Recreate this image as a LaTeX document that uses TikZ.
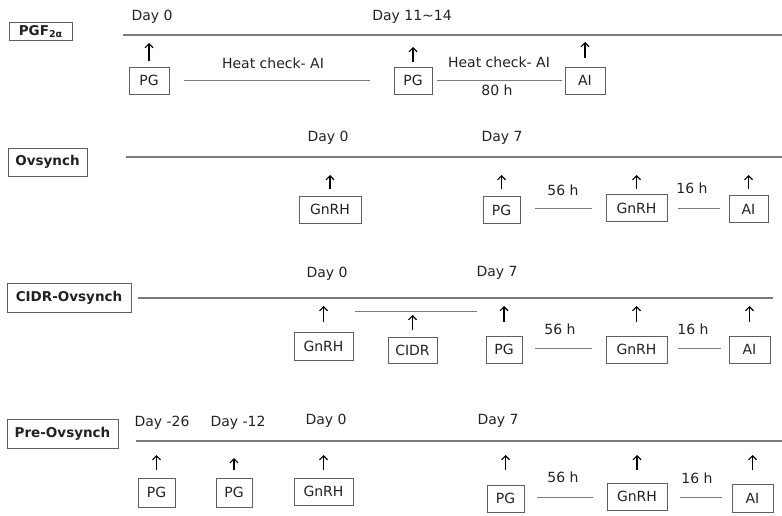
\documentclass[tikz,border=0pt]{standalone}
\usepackage{fontspec}
\setmainfont{DejaVu Sans}
\usetikzlibrary{arrows.meta}
\definecolor{txt}{HTML}{222222}
\definecolor{ln}{HTML}{7A7A7A}
\definecolor{bx}{HTML}{5E5E5E}
\begin{document}
\begin{tikzpicture}[x=1pt,y=-1pt,
  every node/.style={text=txt,font=\fontsize{14}{16}\selectfont,inner sep=0pt},
  ev/.style={draw=bx,line width=0.8pt,minimum height=27pt,minimum width=38pt},
  lab/.style={draw=bx,line width=0.9pt,font=\fontsize{13.5}{15}\selectfont\bfseries,minimum height=28pt},
  tl/.style={draw=ln,line width=1.3pt},
  seg/.style={draw=ln,line width=0.9pt},
  up/.style={draw=black,line width=1.1pt,-{Straight Barb[length=4pt,width=8pt,line width=1.1pt]}}]
\useasboundingbox (0,0) rectangle (782,516);

% ---------------- Row 1: PGF2alpha ----------------
\node[lab,minimum width=63pt,minimum height=18pt] (lab1) at (40.5,31.5) {PGF\raisebox{-0.35ex}{\fontsize{9.5}{10}\selectfont 2α}};
\coordinate (t1a) at (123,35);
\coordinate (t1b) at (782,35);
\draw[tl] (t1a) -- (t1b);
\node (d1a) at (152,17) {Day 0};
\node (d1b) at (412,17) {Day 11\textasciitilde 14};
\node[ev,minimum width=40pt] (pg1a) at (149,80.5) {PG};
\node[ev] (pg1b) at (413,80.5) {PG};
\node[ev,minimum width=40pt] (ai1) at (585,80.5) {AI};
\draw[up] (pg1a.center |- 0,61) -- (pg1a.center |- 0,43);
\draw[up] (pg1b.center |- 0,62) -- (pg1b.center |- 0,47);
\draw[up] (ai1.center |- 0,58) -- (ai1.center |- 0,42);
\draw[seg] ([xshift=15pt]pg1a.east) -- ([xshift=-24pt]pg1b.west);
\draw[seg] ([xshift=5pt,yshift=0.5pt]pg1b.east) -- ([xshift=-3pt,yshift=0.5pt]ai1.west);
\node (hc1) at (273,63) {Heat check- AI};
\node (hc2) at (499,62) {Heat check- AI};
\node (h80) at (497,90) {80 h};

% ---------------- Row 2: Ovsynch ----------------
\node[lab,minimum width=79pt] (lab2) at (47.5,162) {Ovsynch};
\coordinate (t2a) at (126,157);
\coordinate (t2b) at (782,157);
\draw[tl] (t2a) -- (t2b);
\node (d2a) at (328,138) {Day 0};
\node (d2b) at (502,138) {Day 7};
\node[ev,minimum width=62pt] (gn2a) at (330,209.5) {GnRH};
\node[ev,minimum width=37pt] (pg2) at (501.5,210) {PG};
\node[ev,minimum width=61pt] (gn2b) at (636.5,208) {GnRH};
\node[ev,minimum width=39pt] (ai2) at (748.5,209) {AI};
\foreach \n in {gn2a,pg2,gn2b,ai2}{
  \draw[up] (\n.center |- 0,189) -- (\n.center |- 0,175);
}
\draw[seg] ([xshift=15pt]pg2.east |- 0,208) -- ([xshift=-14pt]gn2b.west |- 0,208);
\draw[seg] ([xshift=11pt]gn2b.east |- 0,208) -- ([xshift=-9pt]ai2.west |- 0,208);
\node (h56b) at (563,190) {56 h};
\node (h16b) at (692,188) {16 h};

% ---------------- Row 3: CIDR-Ovsynch ----------------
\node[lab,minimum width=124pt,minimum height=29pt] (lab3) at (69,297.5) {CIDR-Ovsynch};
\coordinate (t3b) at (773,298);
\draw[tl] ([xshift=7pt]lab3.east |- 0,298) -- (t3b);
\node (d3a) at (327,274) {Day 0};
\node (d3b) at (497,273) {Day 7};
\node[ev,minimum width=59pt,minimum height=28pt] (gn3a) at (323.5,346) {GnRH};
\node[ev,minimum width=49pt,minimum height=26pt] (cidr) at (412.5,350) {CIDR};
\node[ev,minimum width=36pt] (pg3) at (504,349.5) {PG};
\node[ev,minimum width=61pt] (gn3b) at (636.5,349.5) {GnRH};
\node[ev,minimum width=41pt] (ai3) at (749.5,349.5) {AI};
\foreach \n in {gn3a,pg3,gn3b,ai3}{
  \draw[up] (\n.center |- 0,322) -- (\n.center |- 0,306);
}
\draw[up] (cidr.center |- 0,330) -- (cidr.center |- 0,315);
\coordinate (c3a) at (355,311);
\coordinate (c3b) at (477,311);
\draw[seg] (c3a) -- (c3b);
\draw[seg] ([xshift=13pt]pg3.east |- 0,348) -- ([xshift=-14pt]gn3b.west |- 0,348);
\draw[seg] ([xshift=11pt]gn3b.east |- 0,348) -- ([xshift=-8pt]ai3.west |- 0,348);
\node (h56c) at (560,329) {56 h};
\node (h16c) at (693,329) {16 h};

% ---------------- Row 4: Pre-Ovsynch ----------------
\node[lab,minimum width=111pt,minimum height=29pt] (lab4) at (62.5,433.5) {Pre-Ovsynch};
\coordinate (t4a) at (136,441);
\coordinate (t4b) at (782,441);
\draw[tl] (t4a) -- (t4b);
\node (d4a) at (162,423) {Day -26};
\node (d4b) at (238,423) {Day -12};
\node (d4c) at (326,421) {Day 0};
\node (d4d) at (498,421) {Day 7};
\node[ev,minimum width=37pt,minimum height=29pt] (pg4a) at (156.5,492.5) {PG};
\node[ev,minimum width=36pt,minimum height=29pt] (pg4b) at (234,492.5) {PG};
\node[ev,minimum width=59pt] (gn4a) at (323.5,491.5) {GnRH};
\node[ev,minimum width=37pt] (pg4c) at (505.5,498.5) {PG};
\node[ev,minimum width=60pt] (gn4b) at (637,496.5) {GnRH};
\node[ev,minimum width=41pt,minimum height=28pt] (ai4) at (752.5,498) {AI};
\draw[up] (pg4a.center |- 0,470) -- (pg4a.center |- 0,455);
\draw[up] (pg4b.center |- 0,470) -- (pg4b.center |- 0,458);
\foreach \n in {gn4a,pg4c,gn4b,ai4}{
  \draw[up] (\n.center |- 0,470) -- (\n.center |- 0,455);
}
\draw[seg] ([xshift=13pt]pg4c.east |- 0,497) -- ([xshift=-14pt]gn4b.west |- 0,497);
\draw[seg] ([xshift=13pt]gn4b.east |- 0,497) -- ([xshift=-10pt]ai4.west |- 0,497);
\node (h56d) at (563,477) {56 h};
\node (h16d) at (697,478) {16 h};
\end{tikzpicture}
\end{document}
